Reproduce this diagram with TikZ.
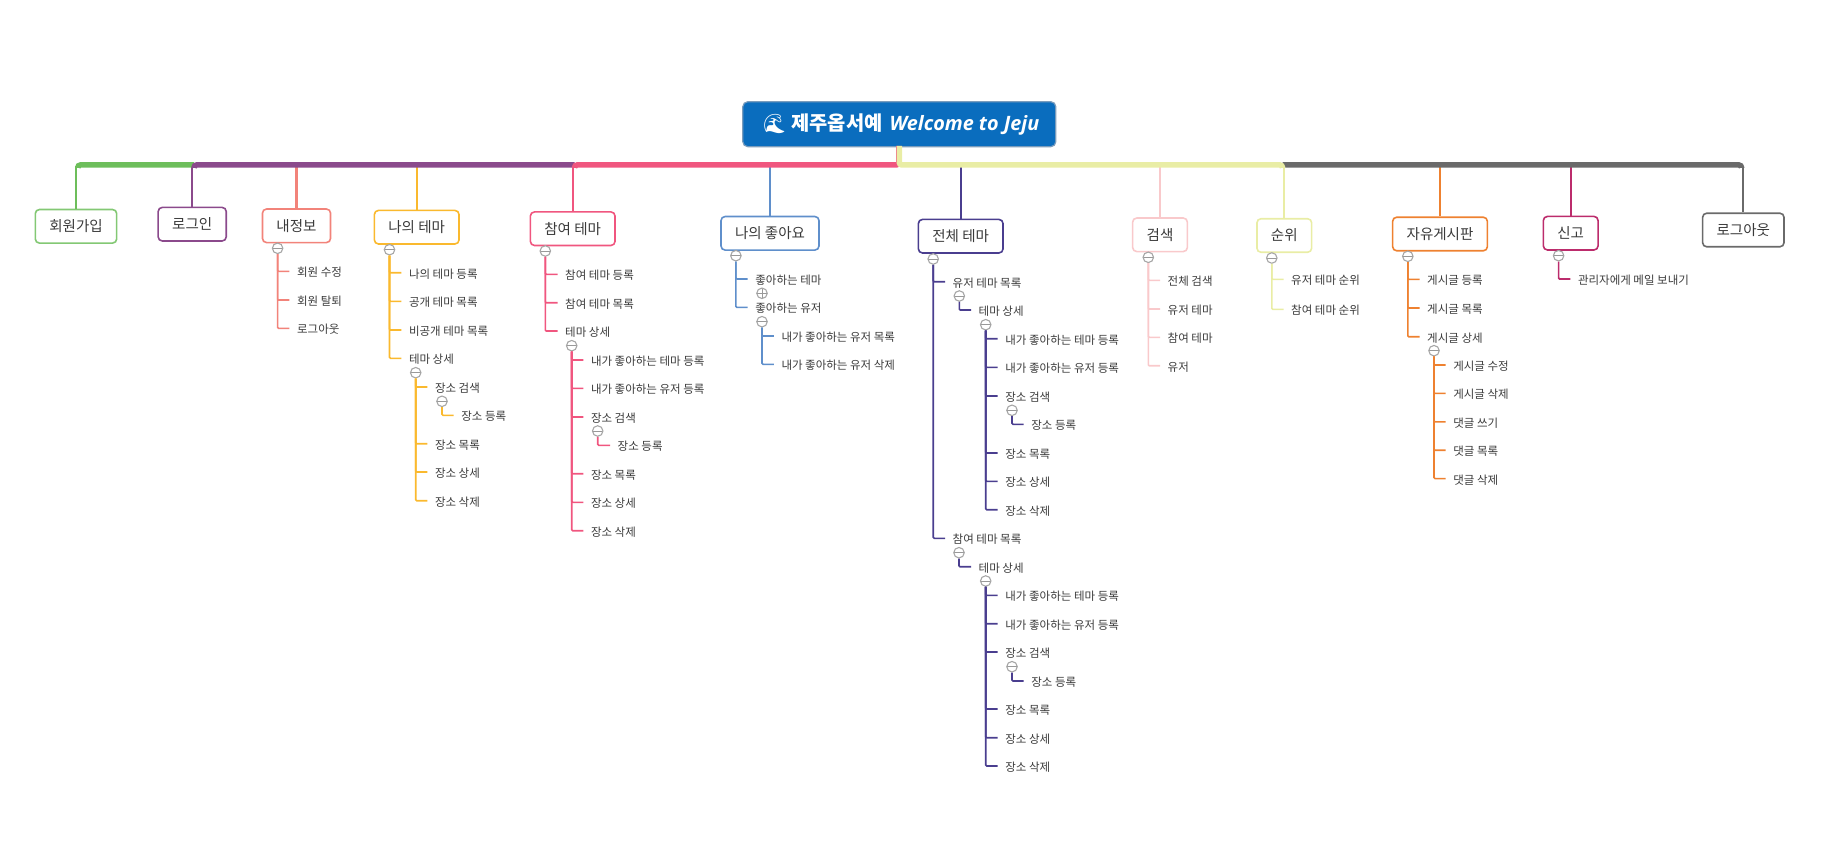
\documentclass[tikz,border=0pt]{standalone}
\usepackage{fontspec}
\setmainfont{Noto Sans CJK KR}
\newfontfamily\latinfont{Open Sans}
\newfontfamily\emojifont{Noto Emoji}
\usepackage{xcolor}
\usepackage{tikz}
\definecolor{croot}{HTML}{0A6DBE}
\definecolor{crootline}{HTML}{7A9CBC}
\definecolor{cjoin}{HTML}{6DBE5B}
\definecolor{clogin}{HTML}{8B4A8C}
\definecolor{cinfo}{HTML}{F2837A}
\definecolor{cmine}{HTML}{FAB92E}
\definecolor{cjointheme}{HTML}{F0567F}
\definecolor{clike}{HTML}{5F8FCB}
\definecolor{call}{HTML}{4A3E8F}
\definecolor{csearch}{HTML}{F9C9CB}
\definecolor{crank}{HTML}{E9EDA5}
\definecolor{cboard}{HTML}{EE8130}
\definecolor{creport}{HTML}{BC2C6C}
\definecolor{clogout}{HTML}{6A6A6A}
\definecolor{ctext}{HTML}{3A3A3A}
\tikzset{
  topic/.style={draw=#1, line width=1.6pt, rounded corners=4pt, fill=white, text=ctext,
    minimum height=33.5pt, inner xsep=14pt, inner ysep=0pt, font=\fontsize{14.5}{16}\selectfont},
  kid/.style={anchor=west, text=ctext, inner xsep=7.5pt, inner ysep=0pt, text height=11pt, text depth=0pt,
    font=\fontsize{11.5}{13}\selectfont},
  bus/.style={draw=#1, line width=5.5pt, rounded corners=2.5pt},
  drop/.style={draw=#1, line width=2.2pt},
  stem/.style={draw=#1, line width=1.6pt, rounded corners=1pt},
  toggle/.style={circle, draw=black!35, line width=1.1pt, fill=white, minimum size=10.5pt, inner sep=0pt,
    path picture={\draw[black!40, line width=0.9pt] (path picture bounding box.west) -- (path picture bounding box.east);}},
  toggleplus/.style={circle, draw=black!35, line width=1.1pt, fill=white, minimum size=10.5pt, inner sep=0pt,
    path picture={\draw[black!40, line width=0.9pt] (path picture bounding box.west) -- (path picture bounding box.east);
      \draw[black!40, line width=0.9pt] (path picture bounding box.north) -- (path picture bounding box.south);}}
}
\begin{document}
\begin{tikzpicture}[x=1pt, y=-1pt]
  \useasboundingbox (0, 0) rectangle (1831, 853);

  % main topics
  \node[draw=crootline, line width=1.2pt, fill=croot, rounded corners=5pt, text=white,
    minimum width=313pt, minimum height=45pt, inner sep=0pt] (root) at (899.3, 124.2)
    {\hspace{3pt}{\emojifont\fontsize{19}{22}\selectfont 🌊}\hspace{5pt}{\fontsize{19.8}{22}\selectfont\bfseries 제주옵서예}\hspace{7pt}{\latinfont\fontsize{19.8}{22}\selectfont\bfseries\itshape Welcome to Jeju}};
  \node[topic=cjoin!85] (join) at (76, 226.3) {회원가입};
  \node[topic=clogin] (login) at (192.2, 224.2) {로그인};
  \node[topic=cinfo] (info) at (296.5, 225.8) {내정보};
  \node[topic=cmine] (mine) at (416.7, 227.2) {나의 테마};
  \node[topic=cjointheme] (jointheme) at (572.7, 228.7) {참여 테마};
  \node[topic=clike] (like) at (770, 233.3) {나의 좋아요};
  \node[topic=call] (all) at (960.7, 236.2) {전체 테마};
  \node[topic=csearch] (search) at (1160, 234.8) {검색};
  \node[topic=crank] (rank) at (1284.3, 235.5) {순위};
  \node[topic=cboard] (board) at (1440, 234) {자유게시판};
  \node[topic=creport] (report) at (1570.7, 233.2) {신고};
  \node[topic=clogout] (logout) at (1743.3, 230) {로그아웃};

  % points on the bar
  \coordinate (busjoin) at (77.8, 165);
  \coordinate (buslogin) at (194, 165);
  \coordinate (businfo) at (296.5, 165);
  \coordinate (busmine) at (416.7, 165);
  \coordinate (busjointheme) at (574.5, 165);
  \coordinate (buslike) at (770, 165);
  \coordinate (busall) at (960.7, 165);
  \coordinate (bussearch) at (1160, 165);
  \coordinate (busrank) at (1282.5, 165);
  \coordinate (busboard) at (1440, 165);
  \coordinate (busreport) at (1570.7, 165);
  \coordinate (buslogout) at (1741.5, 165);
  \coordinate (rootleft) at (898.8, 146);
  \coordinate (rootright) at (899.3, 146);

  \draw[drop=cjoin] (76, 166) -- (join.north);
  \draw[drop=clogin] (192.2, 166) -- (login.north);
  \draw[drop=cinfo] (businfo) -- (info.north);
  \draw[drop=cmine] (busmine) -- (mine.north);
  \draw[drop=cjointheme] (572.7, 166) -- (jointheme.north);
  \draw[drop=clike] (buslike) -- (like.north);
  \draw[drop=call] (busall) -- (all.north);
  \draw[drop=csearch] (bussearch) -- (search.north);
  \draw[drop=crank] (1284.3, 166) -- (rank.north);
  \draw[drop=cboard] (busboard) -- (board.north);
  \draw[drop=creport] (busreport) -- (report.north);
  \draw[drop=clogout] (1743.3, 166) -- (logout.north);

  \draw[bus=clogout] (busrank) -- (buslogout) -- ++(0, 3);
  \draw[bus=cjoin] (buslogin) -- (busjoin) -- ++(0, 3);
  \draw[bus=clogin] (busjointheme) -- (buslogin) -- ++(0, 3);
  \draw[bus=cjointheme] (rootleft) |- (busjointheme) -- ++(0, 3);
  \draw[bus=crank] (rootright) |- (busrank) -- ++(0, 3);

  % info
  \node[toggle] (infotg) at (277.6, 248.3) {};
  \node[kid] (infoedit) at (289.4, 271.3) {회원 수정};
  \node[kid] (infoquit) at (289.4, 300) {회원 탈퇴};
  \node[kid] (infoout) at (289.4, 328.3) {로그아웃};
  \draw[stem=cinfo] (infotg) |- (infoedit.west);
  \draw[stem=cinfo] (infotg) |- (infoquit.west);
  \draw[stem=cinfo] (infotg) |- (infoout.west);

  % mine
  \node[toggle] (minetg) at (389.5, 249.7) {};
  \node[kid] (mineadd) at (401.3, 272.7) {나의 테마 등록};
  \node[kid] (minepub) at (401.3, 301.3) {공개 테마 목록};
  \node[kid] (minepriv) at (401.3, 330) {비공개 테마 목록};
  \node[kid] (minedet) at (401.3, 358.3) {테마 상세};
  \draw[stem=cmine] (minetg) |- (mineadd.west);
  \draw[stem=cmine] (minetg) |- (minepub.west);
  \draw[stem=cmine] (minetg) |- (minepriv.west);
  \draw[stem=cmine] (minetg) |- (minedet.west);
  \node[toggle] (minedettg) at (415.7, 372.7) {};
  \node[kid] (minefind) at (427.3, 387) {장소 검색};
  \node[kid] (minelist) at (427.3, 443.7) {장소 목록};
  \node[kid] (minepl) at (427.3, 472) {장소 상세};
  \node[kid] (minedel) at (427.3, 500.7) {장소 삭제};
  \draw[stem=cmine] (minedettg) |- (minefind.west);
  \draw[stem=cmine] (minedettg) |- (minelist.west);
  \draw[stem=cmine] (minedettg) |- (minepl.west);
  \draw[stem=cmine] (minedettg) |- (minedel.west);
  \node[toggle] (minefindtg) at (442, 401.3) {};
  \node[kid] (mineplace) at (453.7, 415.3) {장소 등록};
  \draw[stem=cmine] (minefindtg) |- (mineplace.west);

  % jointheme
  \node[toggle] (jointg) at (545.3, 251) {};
  \node[kid] (joinadd) at (557.5, 274.3) {참여 테마 등록};
  \node[kid] (joinlist) at (557.5, 302.7) {참여 테마 목록};
  \node[kid] (joindet) at (557.5, 331) {테마 상세};
  \draw[stem=cjointheme] (jointg) |- (joinadd.west);
  \draw[stem=cjointheme] (jointg) |- (joinlist.west);
  \draw[stem=cjointheme] (jointg) |- (joindet.west);
  \node[toggle] (joindettg) at (571.7, 345.7) {};
  \node[kid] (joinlt) at (583.3, 360) {내가 좋아하는 테마 등록};
  \node[kid] (joinlu) at (583.3, 388.3) {내가 좋아하는 유저 등록};
  \node[kid] (joinfind) at (583.3, 417) {장소 검색};
  \node[kid] (joinpl) at (583.3, 473.7) {장소 목록};
  \node[kid] (joinps) at (583.3, 502.3) {장소 상세};
  \node[kid] (joinpd) at (583.3, 530.7) {장소 삭제};
  \draw[stem=cjointheme] (joindettg) |- (joinlt.west);
  \draw[stem=cjointheme] (joindettg) |- (joinlu.west);
  \draw[stem=cjointheme] (joindettg) |- (joinfind.west);
  \draw[stem=cjointheme] (joindettg) |- (joinpl.west);
  \draw[stem=cjointheme] (joindettg) |- (joinps.west);
  \draw[stem=cjointheme] (joindettg) |- (joinpd.west);
  \node[toggle] (joinfindtg) at (597.7, 431) {};
  \node[kid] (joinplace) at (610, 445.3) {장소 등록};
  \draw[stem=cjointheme] (joinfindtg) |- (joinplace.west);

  % like
  \node[toggle] (liketg) at (735.9, 255.7) {};
  \node[kid] (liketheme) at (747.7, 279) {좋아하는 테마};
  \node[kid] (likeuser) at (747.7, 307.3) {좋아하는 유저};
  \draw[stem=clike] (liketg) |- (liketheme.west);
  \draw[stem=clike] (liketg) |- (likeuser.west);
  \node[toggleplus] (likethemetg) at (762, 293.3) {};
  \node[toggle] (likeusertg) at (762, 321.7) {};
  \node[kid] (likeulist) at (773.8, 336) {내가 좋아하는 유저 목록};
  \node[kid] (likeudel) at (773.8, 364.3) {내가 좋아하는 유저 삭제};
  \draw[stem=clike] (likeusertg) |- (likeulist.west);
  \draw[stem=clike] (likeusertg) |- (likeudel.west);

  % all
  \node[toggle] (alltg) at (933.2, 259) {};
  \node[kid] (allu) at (945, 281.7) {유저 테마 목록};
  \node[kid] (allj) at (945, 538.3) {참여 테마 목록};
  \draw[stem=call] (alltg) |- (allu.west);
  \draw[stem=call] (alltg) |- (allj.west);
  \node[toggle] (allutg) at (959.3, 296) {};
  \node[kid] (allud) at (971, 310) {테마 상세};
  \draw[stem=call] (allutg) |- (allud.west);
  \node[toggle] (alludtg) at (985.7, 324.7) {};
  \node[kid] (allult) at (997.7, 338.7) {내가 좋아하는 테마 등록};
  \node[kid] (allulu) at (997.7, 367.3) {내가 좋아하는 유저 등록};
  \node[kid] (allufind) at (997.7, 396) {장소 검색};
  \node[kid] (allupl) at (997.7, 453) {장소 목록};
  \node[kid] (allups) at (997.7, 481.3) {장소 상세};
  \node[kid] (allupd) at (997.7, 509.7) {장소 삭제};
  \draw[stem=call] (alludtg) |- (allult.west);
  \draw[stem=call] (alludtg) |- (allulu.west);
  \draw[stem=call] (alludtg) |- (allufind.west);
  \draw[stem=call] (alludtg) |- (allupl.west);
  \draw[stem=call] (alludtg) |- (allups.west);
  \draw[stem=call] (alludtg) |- (allupd.west);
  \node[toggle] (allufindtg) at (1012, 410.3) {};
  \node[kid] (alluplace) at (1023.7, 424.3) {장소 등록};
  \draw[stem=call] (allufindtg) |- (alluplace.west);
  \node[toggle] (alljtg) at (959, 552.7) {};
  \node[kid] (alljd) at (971, 566.7) {테마 상세};
  \draw[stem=call] (alljtg) |- (alljd.west);
  \node[toggle] (alljdtg) at (985.7, 581) {};
  \node[kid] (alljlt) at (997.7, 595.3) {내가 좋아하는 테마 등록};
  \node[kid] (alljlu) at (997.7, 623.7) {내가 좋아하는 유저 등록};
  \node[kid] (alljfind) at (997.7, 652) {장소 검색};
  \node[kid] (alljpl) at (997.7, 709) {장소 목록};
  \node[kid] (alljps) at (997.7, 737.7) {장소 상세};
  \node[kid] (alljpd) at (997.7, 766) {장소 삭제};
  \draw[stem=call] (alljdtg) |- (alljlt.west);
  \draw[stem=call] (alljdtg) |- (alljlu.west);
  \draw[stem=call] (alljdtg) |- (alljfind.west);
  \draw[stem=call] (alljdtg) |- (alljpl.west);
  \draw[stem=call] (alljdtg) |- (alljps.west);
  \draw[stem=call] (alljdtg) |- (alljpd.west);
  \node[toggle] (alljfindtg) at (1012, 666.7) {};
  \node[kid] (alljplace) at (1023.7, 681) {장소 등록};
  \draw[stem=call] (alljfindtg) |- (alljplace.west);

  % search
  \node[toggle] (searchtg) at (1148.3, 257.3) {};
  \node[kid] (searchall) at (1160, 280.3) {전체 검색};
  \node[kid] (searchut) at (1160, 309) {유저 테마};
  \node[kid] (searchjt) at (1160, 337.3) {참여 테마};
  \node[kid] (searchu) at (1160, 365.7) {유저};
  \draw[stem=csearch] (searchtg) |- (searchall.west);
  \draw[stem=csearch] (searchtg) |- (searchut.west);
  \draw[stem=csearch] (searchtg) |- (searchjt.west);
  \draw[stem=csearch] (searchtg) |- (searchu.west);

  % rank
  \node[toggle] (ranktg) at (1271.8, 258) {};
  \node[kid] (ranku) at (1283.5, 279.3) {유저 테마 순위};
  \node[kid] (rankj) at (1283.5, 309.3) {참여 테마 순위};
  \draw[stem=crank] (ranktg) |- (ranku.west);
  \draw[stem=crank] (ranktg) |- (rankj.west);

  % board
  \node[toggle] (boardtg) at (1407.8, 256.3) {};
  \node[kid] (boardadd) at (1419.5, 279.3) {게시글 등록};
  \node[kid] (boardlist) at (1419.5, 308) {게시글 목록};
  \node[kid] (boarddet) at (1419.5, 336.7) {게시글 상세};
  \draw[stem=cboard] (boardtg) |- (boardadd.west);
  \draw[stem=cboard] (boardtg) |- (boardlist.west);
  \draw[stem=cboard] (boardtg) |- (boarddet.west);
  \node[toggle] (boarddettg) at (1434, 350.7) {};
  \node[kid] (boardedit) at (1445.6, 365) {게시글 수정};
  \node[kid] (boarddel) at (1445.6, 393.4) {게시글 삭제};
  \node[kid] (replyadd) at (1445.6, 421.8) {댓글 쓰기};
  \node[kid] (replylist) at (1445.6, 450.2) {댓글 목록};
  \node[kid] (replydel) at (1445.6, 478.6) {댓글 삭제};
  \draw[stem=cboard] (boarddettg) |- (boardedit.west);
  \draw[stem=cboard] (boarddettg) |- (boarddel.west);
  \draw[stem=cboard] (boarddettg) |- (replyadd.west);
  \draw[stem=cboard] (boarddettg) |- (replylist.west);
  \draw[stem=cboard] (boarddettg) |- (replydel.west);

  % report
  \node[toggle] (reporttg) at (1558.6, 255.7) {};
  \node[kid] (reportmail) at (1570.3, 279) {관리자에게 메일 보내기};
  \draw[stem=creport] (reporttg) |- (reportmail.west);
\end{tikzpicture}
\end{document}
